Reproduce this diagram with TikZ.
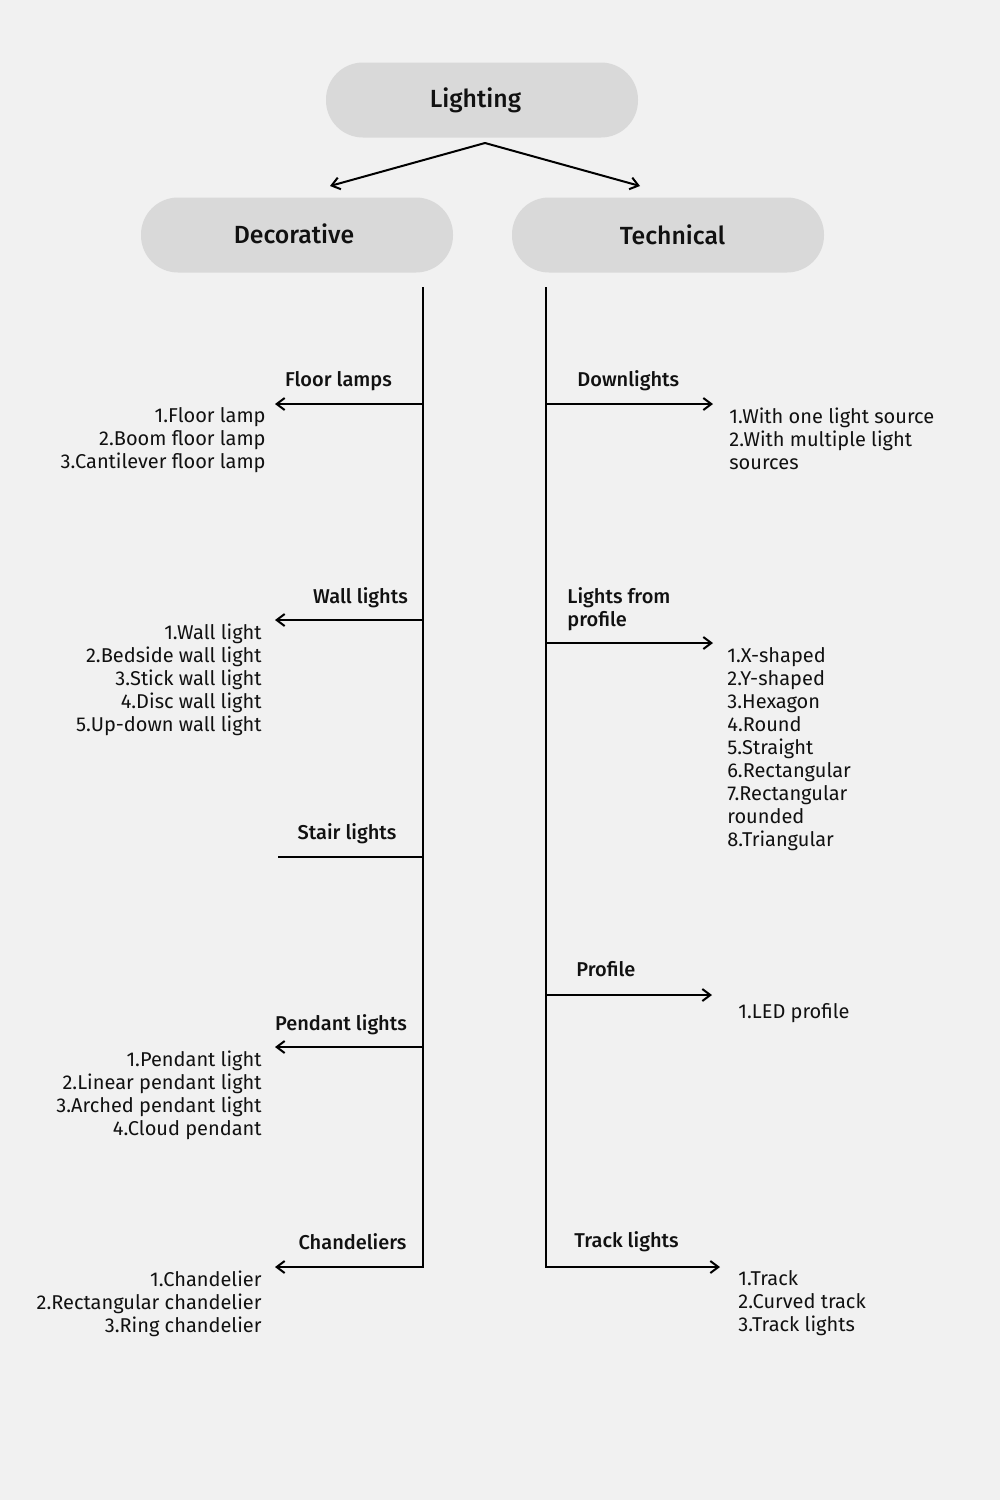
\documentclass[tikz,border=0pt]{standalone}
\usepackage{fontspec}
\setmainfont{Fira Sans}[BoldFont={Fira Sans Medium}]
\usetikzlibrary{arrows.meta}

\definecolor{bggray}{HTML}{F1F1F1}
\definecolor{pillgray}{HTML}{D9D9D9}
\definecolor{inkblack}{HTML}{111111}

\tikzset{
  pill/.style={rectangle, rounded corners=18.5pt, fill=pillgray, minimum width=156pt, minimum height=37.5pt, text=inkblack, font=\bfseries\fontsize{12.4}{15}\selectfont},
  branch/.style={line width=1pt, -{Straight Barb[length=4pt,width=6pt,line width=1pt]}},
  plainbranch/.style={line width=1pt},
  heading/.style={inner sep=0pt, text=inkblack, font=\bfseries\fontsize{10}{11.5}\selectfont},
  itemsleft/.style={inner sep=0pt, text=inkblack, align=right, anchor=east, font=\fontsize{10}{11.5}\selectfont},
  itemsright/.style={inner sep=0pt, text=inkblack, align=left, anchor=west, font=\fontsize{10}{11.5}\selectfont}
}

\begin{document}
\begin{tikzpicture}[x=0.5pt, y=-0.5pt]
    \useasboundingbox (0,0) rectangle (1000,1500);
    \fill[bggray] (0,0) rectangle (1000,1500);

    \node[pill] (lighting) at (482,100) {\hspace*{-6.5pt}\raisebox{-1pt}{Lighting}};
    \node[pill] (decorative) at (297,235) {\hspace*{-3pt}\raisebox{1pt}{Decorative}};
    \node[pill] (technical) at (668,235) {\raisebox{0.5pt}{Technical}\hspace*{-4.5pt}};

    \coordinate (split) at (485,143);
    \coordinate (decin) at (330,186);
    \coordinate (techin) at (640,186);
    \draw[branch] (split) -- (decin);
    \draw[branch] (split) -- (techin);

    % decorative side
    \coordinate (dtop) at (423,287);
    \coordinate (dbot) at (423,1267);
    \coordinate (floor) at (423,404);
    \coordinate (floorend) at (275,404);
    \coordinate (wall) at (423,620);
    \coordinate (wallend) at (275,620);
    \coordinate (stair) at (423,857);
    \coordinate (stairend) at (278,857);
    \coordinate (pendant) at (423,1047);
    \coordinate (pendantend) at (275,1047);
    \coordinate (chandend) at (275,1267);

    \draw[branch] (dtop) -- (dbot) -- (chandend);
    \draw[branch] (floor) -- (floorend);
    \draw[branch] (wall) -- (wallend);
    \draw[plainbranch] (stair) -- (stairend);
    \draw[branch] (pendant) -- (pendantend);

    \node[heading] (floorlbl) at (338.5,381) {Floor lamps};
    \node[heading] (walllbl) at (360.5,598) {Wall lights};
    \node[heading] (stairlbl) at (347,834) {Stair lights};
    \node[heading] (pendantlbl) at (341,1025) {Pendant lights};
    \node[heading] (chandlbl) at (352.5,1242) {Chandeliers};

    \node[itemsleft] (flooritems) at (266,440.5) {1.Floor lamp\\2.Boom floor lamp\\3.Cantilever floor lamp};
    \node[itemsleft] (wallitems) at (262,679.5) {1.Wall light\\2.Bedside wall light\\3.Stick wall light\\4.Disc wall light\\5.Up-down wall light};
    \node[itemsleft] (pendantitems) at (262,1095) {1.Pendant light\\2.Linear pendant light\\3.Arched pendant light\\4.Cloud pendant};
    \node[itemsleft] (chanditems) at (262,1303.5) {1.Chandelier\\2.Rectangular chandelier\\3.Ring chandelier};

    % technical side
    \coordinate (ttop) at (546,287);
    \coordinate (tbot) at (546,1267);
    \coordinate (down) at (546,404);
    \coordinate (downend) at (713,404);
    \coordinate (lfp) at (546,643);
    \coordinate (lfpend) at (713,643);
    \coordinate (prof) at (546,995);
    \coordinate (profend) at (712,995);
    \coordinate (trackend) at (720,1267);

    \draw[branch] (ttop) -- (tbot) -- (trackend);
    \draw[branch] (down) -- (downend);
    \draw[branch] (lfp) -- (lfpend);
    \draw[branch] (prof) -- (profend);

    \node[heading, anchor=west] (downlbl) at (577,381) {Downlights};
    \node[heading, anchor=west, align=left] (lfplbl) at (567,609.5) {Lights from\\profile};
    \node[heading, anchor=west] (proflbl) at (576,969) {Profile};
    \node[heading, anchor=west] (tracklbl) at (574,1242) {Track lights};

    \node[itemsright] (downitems) at (729,438.5) {1.With one light source\\2.With multiple light\\sources};
    \node[itemsright] (lfpitems) at (727,749.5) {1.X-shaped\\2.Y-shaped\\3.Hexagon\\4.Round\\5.Straight\\6.Rectangular\\7.Rectangular\\rounded\\8.Triangular};
    \node[itemsright] (profitems) at (738,1013.5) {1.LED profile};
    \node[itemsright] (trackitems) at (738,1303.5) {1.Track\\2.Curved track\\3.Track lights};
\end{tikzpicture}
\end{document}
